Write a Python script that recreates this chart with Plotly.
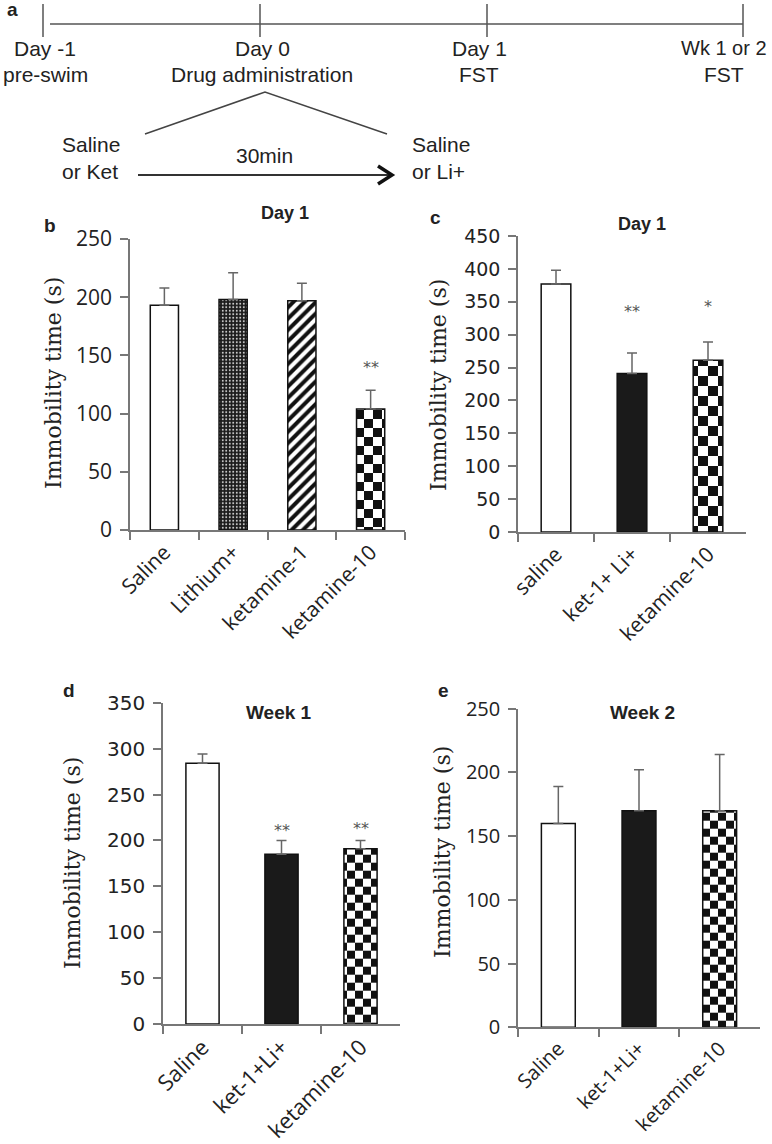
import plotly.graph_objects as go

W, H = 772, 1144

# ---------------- data ----------------
b_cats = ["Saline", "Lithium+", "ketamine-1", "ketamine-10"]
b_vals = [193, 198, 197, 104]
b_err = [15, 23, 15, 16]
b_stars = ["", "", "", "**"]
b_star_y = [None, None, None, 140]

c_cats = ["saline", "ket-1+ Li+", "ketamine-10"]
c_vals = [377, 241, 261]
c_err = [21, 31, 28]
c_stars = ["", "**", "*"]
c_star_y = [None, 335, 343]

d_cats = ["Saline", "ket-1+Li+", "ketamine-10"]
d_vals = [284, 185, 191]
d_err = [10, 15, 9]
d_stars = ["", "**", "**"]
d_star_y = [None, 211, 213]

e_cats = ["Saline", "ket-1+Li+", "ketamine-10"]
e_vals = [160, 170, 170]
e_err = [29, 32, 44]

timeline_top = ["Day -1", "Day 0", "Day 1", "Wk 1 or 2"]
timeline_bottom = ["pre-swim", "Drug administration", "FST", "FST"]


def px(x):
    return x / W


def py(y):
    return 1 - y / H


def checker(s):
    t = 2 * s
    return f"M0,0H{s}V{s}H0Z M{s},{s}H{t}V{t}H{s}Z"


WHITE = dict(color="white", line=dict(color="#111", width=1.5))
BLACK = dict(color="#1a1a1a", line=dict(color="#111", width=1.5))


def checker_marker(s):
    return dict(color="white", line=dict(color="#111", width=1.5),
                pattern=dict(path=checker(s), size=2 * s, fgcolor="#111",
                             bgcolor="white", solidity=1, fillmode="replace"))


DOTS = dict(color="#333", line=dict(color="#111", width=1.5),
            pattern=dict(shape=".", size=3.5, solidity=0.25, fgcolor="#d0d0d0",
                         bgcolor="#1a1a1a", fillmode="replace"))
STRIPES = dict(color="white", line=dict(color="#111", width=1.5),
               pattern=dict(shape="/", size=8, solidity=0.5, fgcolor="#111",
                            bgcolor="white", fillmode="replace"))

fig = go.Figure()


def add_panel(idx, cats, vals, errs, markers, width):
    xa = "x" if idx == 1 else f"x{idx}"
    ya = "y" if idx == 1 else f"y{idx}"
    for c, v, e, m in zip(cats, vals, errs, markers):
        fig.add_trace(go.Bar(
            x=[c], y=[v], width=width, marker=m, xaxis=xa, yaxis=ya,
            error_y=dict(type="data", array=[e], arrayminus=[0], symmetric=False,
                         color="#666", thickness=1.5, width=5),
            showlegend=False, hoverinfo="skip"))


add_panel(1, b_cats, b_vals, b_err, [WHITE, DOTS, STRIPES, checker_marker(9)], 0.41)
add_panel(2, c_cats, c_vals, c_err, [WHITE, BLACK, checker_marker(10)], 0.39)
add_panel(3, d_cats, d_vals, d_err, [WHITE, BLACK, checker_marker(8)], 0.42)
add_panel(4, e_cats, e_vals, e_err, [WHITE, BLACK, checker_marker(8)], 0.42)

axis_line = dict(showline=True, linecolor="#777", linewidth=1.5, ticks="outside",
                 tickcolor="#777", tickwidth=1.5, ticklen=8, showgrid=False,
                 zeroline=False, automargin=False)

panels = {
    1: dict(x=(130, 405), y=(530, 239), rng=250, font=dict(family="Open Sans", size=21, color="#222")),
    2: dict(x=(518, 746), y=(532, 236), rng=450, font=dict(family="DejaVu Sans", size=19, color="#222")),
    3: dict(x=(163, 400), y=(1024, 702.7), rng=350, font=dict(family="DejaVu Sans", size=20, color="#222")),
    4: dict(x=(518, 760), y=(1027.3, 708.7), rng=250, font=dict(family="Open Sans", size=20, color="#222")),
}
xlabel_font = {
    1: dict(family="Open Sans", size=21, color="#222"),
    2: dict(family="Open Sans", size=21, color="#222"),
    3: dict(family="Open Sans", size=22, color="#222"),
    4: dict(family="Open Sans", size=20, color="#222"),
}

layout = {}
for i, p in panels.items():
    xk = "xaxis" if i == 1 else f"xaxis{i}"
    yk = "yaxis" if i == 1 else f"yaxis{i}"
    ya = "y" if i == 1 else f"y{i}"
    xa = "x" if i == 1 else f"x{i}"
    layout[xk] = dict(axis_line, domain=[px(p["x"][0]), px(p["x"][1])], anchor=ya,
                      tickson="boundaries", tickangle=-45, tickfont=xlabel_font[i],
                      fixedrange=True)
    layout[yk] = dict(axis_line, domain=[py(p["y"][0]), py(p["y"][1])], anchor=xa,
                      range=[0, p["rng"]], dtick=50, tickfont=p["font"], ticklabelstandoff=4)

fig.update_layout(template="none")
fig.update_layout(**layout)
fig.update_layout(width=W, height=H, margin=dict(l=0, r=0, t=0, b=0, autoexpand=False),
                  paper_bgcolor="white", plot_bgcolor="white", bargap=0.5,
                  barmode="overlay")

ann = []


def txt(x, y, t, size=21, bold=False, family="Liberation Sans", xanchor="center",
        yanchor="middle", align="center", color="#222", angle=0):
    ann.append(dict(x=px(x), y=py(y), xref="paper", yref="paper", text=f"<b>{t}</b>" if bold else t,
                    showarrow=False, xanchor=xanchor, yanchor=yanchor, align=align,
                    textangle=angle, font=dict(family=family, size=size, color=color)))


# ---------------- panel a: timeline ----------------
tick_x = [43, 260, 487, 743]
shapes = [dict(type="line", xref="paper", yref="paper", x0=px(50), x1=px(743), y0=py(24), y1=py(24),
               line=dict(color="#555", width=1.5))]
for tx in tick_x:
    shapes.append(dict(type="line", xref="paper", yref="paper", x0=px(tx), x1=px(tx),
                       y0=py(4), y1=py(37), line=dict(color="#555", width=1.5)))
label_x = [45, 262, 479, 724]
for lx, t1, t2 in zip(label_x, timeline_top, timeline_bottom):
    txt(lx, 48, t1, size=21 if t1 != "Wk 1 or 2" else 20)
    txt(lx, 75, t2)
txt(5, 9, "a", size=19, bold=True, xanchor="left")
# triangle
shapes.append(dict(type="path", xref="paper", yref="paper",
                   path=f"M{px(145)},{py(134)} L{px(265)},{py(92)} L{px(387)},{py(134)}",
                   line=dict(color="#444", width=1.5)))
# arrow
shapes.append(dict(type="line", xref="paper", yref="paper", x0=px(138), x1=px(390), y0=py(175), y1=py(175),
                   line=dict(color="#333", width=1.8)))
shapes.append(dict(type="path", xref="paper", yref="paper",
                   path=f"M{px(378)},{py(166)} L{px(392)},{py(175)} L{px(378)},{py(184)}",
                   line=dict(color="#111", width=3.5)))
txt(60, 158, "Saline<br>or Ket", xanchor="left", align="left")
txt(410, 158, "Saline<br>or Li+", xanchor="left", align="left")
txt(264, 155, "30min")

# ---------------- panel labels / titles ----------------
txt(50, 225, "b", size=19, bold=True)
txt(285, 213, "Day 1", size=18, bold=True)
txt(435, 217, "c", size=19, bold=True)
txt(642, 224, "Day 1", size=18, bold=True)
txt(69, 690, "d", size=19, bold=True)
txt(279, 712, "Week 1", size=19, bold=True)
txt(443, 690, "e", size=19, bold=True)
txt(642, 712, "Week 2", size=19, bold=True)

ytitle = "Immobility time (s)"
for (x, y) in [(53, 383), (438, 385), (72, 863), (442, 852)]:
    txt(x, y, ytitle, size=22, family="DejaVu Serif", angle=-90)

# stars (data coords)
for xa, ya, cats, stars, sy in [("x", "y", b_cats, b_stars, b_star_y),
                                ("x2", "y2", c_cats, c_stars, c_star_y),
                                ("x3", "y3", d_cats, d_stars, d_star_y)]:
    for c, s, yv in zip(cats, stars, sy):
        if s:
            ann.append(dict(x=c, y=yv, xref=xa, yref=ya, text=s, showarrow=False,
                            font=dict(family="DejaVu Sans", size=16, color="#555")))

fig.update_layout(annotations=ann, shapes=shapes)
fig.write_html("out.html", config={"displayModeBar": False},
               post_script="document.body.style.margin='0';document.body.style.overflow='hidden';")
